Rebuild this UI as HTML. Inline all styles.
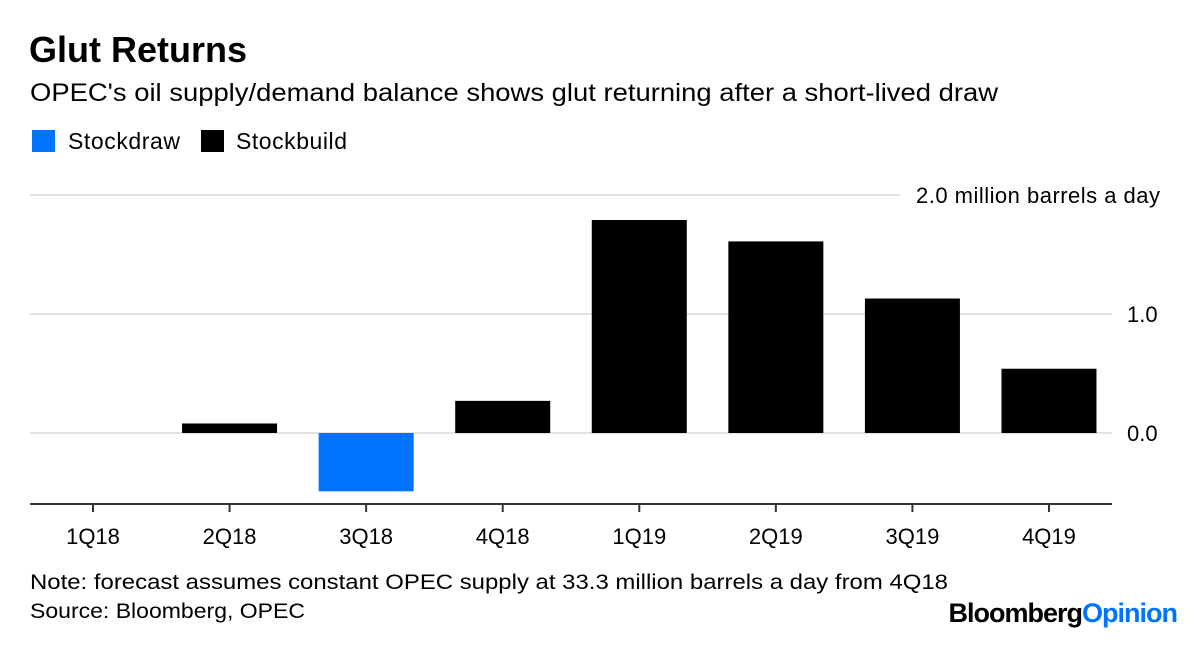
<!DOCTYPE html>
<html><head><meta charset="utf-8"><style>
body{margin:0;background:#fff;width:1200px;height:642px;overflow:hidden;font-family:"Liberation Sans",Arial,sans-serif}
</style></head><body>
<svg width="1200" height="642" xmlns="http://www.w3.org/2000/svg" font-family="Liberation Sans, Arial, sans-serif">
<text x="29" y="62" font-size="36" font-weight="bold" fill="#000">Glut Returns</text>
<text x="30" y="101" font-size="25" fill="#000" textLength="968" lengthAdjust="spacingAndGlyphs">OPEC's oil supply/demand balance shows glut returning after a short-lived draw</text>
<g>
<rect x="32" y="130" width="23" height="22" fill="#0073ff"/>
<text x="68" y="149" font-size="23" textLength="112">Stockdraw</text>
<rect x="201" y="130" width="23" height="22" fill="#000"/>
<text x="236" y="149" font-size="23" textLength="111">Stockbuild</text>
</g>
<g id="grid"></g>
<g id="bars"></g>
<g id="axis"></g>
<text x="30" y="589" font-size="21" textLength="918" lengthAdjust="spacingAndGlyphs">Note: forecast assumes constant OPEC supply at 33.3 million barrels a day from 4Q18</text>
<text x="30" y="618" font-size="21" textLength="275" lengthAdjust="spacingAndGlyphs">Source: Bloomberg, OPEC</text>
<text x="1177" y="622" font-size="27" font-weight="bold" text-anchor="end" letter-spacing="-1"><tspan fill="#000">Bloomberg</tspan><tspan fill="#0073ff">Opinion</tspan></text>
</svg>
<script>
const categories=["1Q18","2Q18","3Q18","4Q18","1Q19","2Q19","3Q19","4Q19"];
const values=[0,0.08,-0.49,0.27,1.79,1.61,1.13,0.54];
const yTicks=[0,1,2];
const yTickLabels=["0.0","1.0","2.0 million barrels a day"];
const NS="http://www.w3.org/2000/svg";
function y(v){return 433-v*119;}
function x(i){return 93+i*136.57;}
const bw=95;
function mk(t,a,p){const e=document.createElementNS(NS,t);for(const k in a)e.setAttribute(k,a[k]);p.appendChild(e);return e;}
const grid=document.getElementById('grid'),bars=document.getElementById('bars'),axis=document.getElementById('axis');
yTicks.forEach((t,i)=>{
  const last=i===yTicks.length-1;
  const l=mk('line',{x1:30,x2:last?900:1112,y1:y(t),y2:y(t),stroke:'#e3e3e3','stroke-width':2},grid);
  
  
  const attrs={x:last?916:1127,y:y(t)+8,'font-size':22};
  if(last){attrs.textLength=244;}
  const tx=mk('text',attrs,grid);
  tx.textContent=yTickLabels[i];
  
  
});
values.forEach((v,i)=>{
  if(v===0)return;
  const r=mk('rect',{x:x(i)-bw/2,y:Math.min(y(v),y(0)),width:bw,height:Math.abs(y(v)-y(0)),fill:v<0?'#0073ff':'#000'},bars);
  
  
});
const ax=mk('line',{x1:30,x2:1112,y1:504,y2:504,stroke:'#333','stroke-width':2},axis);


categories.forEach((c,i)=>{
  const t=mk('line',{x1:x(i),x2:x(i),y1:504,y2:512,stroke:'#333','stroke-width':2},axis);
  
  
  const l=mk('text',{x:x(i),y:544,'font-size':22,'text-anchor':'middle'},axis);
  l.textContent=c;
  
  
});
</script>
</body></html>
